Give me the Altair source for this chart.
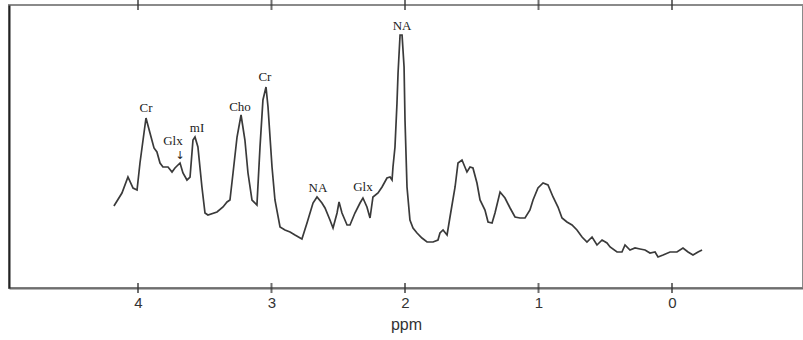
import altair as alt
import pandas as pd

# Spectrum trace (chemical shift in ppm, intensity in arbitrary units)
ppm = [4.180, 4.120, 4.075, 4.037, 4.007, 3.985, 3.940, 3.910, 3.880, 3.858,
       3.835, 3.813, 3.775, 3.745, 3.723, 3.685, 3.663, 3.633, 3.610, 3.588,
       3.573, 3.551, 3.521, 3.498, 3.476, 3.408, 3.363, 3.333, 3.311, 3.288,
       3.258, 3.228, 3.199, 3.176, 3.146, 3.109, 3.086, 3.064, 3.041, 3.026,
       2.996, 2.974, 2.936, 2.899, 2.861, 2.824, 2.772, 2.734, 2.689, 2.659,
       2.622, 2.599, 2.562, 2.539, 2.509, 2.494, 2.472, 2.434, 2.412, 2.375,
       2.337, 2.315, 2.285, 2.262, 2.240, 2.202, 2.172, 2.135, 2.112, 2.097,
       2.090, 2.075, 2.060, 2.052, 2.037, 2.022, 2.007, 2.000, 1.985, 1.963,
       1.940, 1.910, 1.873, 1.835, 1.790, 1.753, 1.738, 1.715, 1.685, 1.663,
       1.625, 1.603, 1.573, 1.536, 1.513, 1.491, 1.461, 1.438, 1.401, 1.378,
       1.348, 1.326, 1.288, 1.251, 1.213, 1.176, 1.139, 1.101, 1.064, 1.041,
       1.004, 0.966, 0.929, 0.891, 0.854, 0.824, 0.787, 0.749, 0.712, 0.674,
       0.637, 0.599, 0.562, 0.524, 0.487, 0.464, 0.412, 0.375, 0.352, 0.315,
       0.277, 0.240, 0.202, 0.165, 0.127, 0.105, 0.067, 0.015, -0.037, -0.082,
       -0.120, -0.157, -0.195, -0.225]
intensity = [81, 94, 110, 99, 97, 124, 169, 154, 139, 135,
             124, 120, 120, 115, 119, 124, 114, 107, 110, 147,
             150, 140, 100, 74, 72, 75, 80, 85, 87, 114,
             150, 172, 147, 114, 87, 82, 140, 187, 200, 180,
             120, 87, 60, 57, 55, 52, 48, 64, 84, 90,
             84, 79, 67, 59, 74, 85, 74, 62, 62, 74,
             84, 89, 80, 69, 90, 94, 100, 109, 110, 107,
             120, 140, 184, 214, 252, 252, 220, 167, 100, 67,
             59, 54, 49, 45, 45, 47, 54, 57, 52, 70,
             100, 124, 127, 115, 120, 119, 104, 87, 77, 65,
             64, 74, 95, 89, 79, 70, 69, 69, 77, 87,
             99, 104, 102, 90, 80, 69, 65, 62, 57, 50,
             45, 50, 42, 47, 44, 40, 35, 35, 42, 37,
             39, 38, 37, 34, 35, 30, 32, 35, 35, 39,
             35, 32, 35, 37]

# Peak annotations
label_text = ["Cr", "Glx", "mI", "Cho", "Cr", "NA", "NA", "Glx"]
label_ppm = [3.940, 3.738, 3.558, 3.236, 3.049, 2.022, 2.652, 2.315]
label_int = [179, 146, 159, 180, 210, 261, 99, 100]
arrow_ppm = [3.685]
arrow_int = [131]

tick_values = [4, 3, 2, 1, 0]
x_min, x_max = -0.981, 4.966
y_min, y_max = -1, 282

W, H = 794, 283
x_scale = alt.Scale(domain=[x_max, x_min], nice=False, zero=False)
y_scale = alt.Scale(domain=[y_min, y_max], nice=False, zero=False)

spec = pd.DataFrame({"ppm": ppm, "intensity": intensity})
labels = pd.DataFrame({"ppm": label_ppm, "intensity": label_int, "text": label_text})
arrows = pd.DataFrame({"ppm": arrow_ppm, "intensity": arrow_int})
ticks = pd.DataFrame({"ppm": tick_values})

line = alt.Chart(spec).mark_line(color="#3a3a3a", strokeWidth=1.7).encode(
    x=alt.X("ppm:Q", scale=x_scale,
            axis=alt.Axis(title="ppm", values=tick_values, format="d",
                          ticks=False, grid=False, domainColor="#6e6e6e",
                          domainWidth=2, labelFont="Liberation Sans",
                          labelFontSize=15, labelColor="#333", labelPadding=7,
                          titleFont="Liberation Sans", titleFontSize=16,
                          titleFontWeight="normal", titleColor="#333",
                          titlePadding=6)),
    y=alt.Y("intensity:Q", scale=y_scale,
            axis=alt.Axis(title=None, labels=False, ticks=False, grid=False,
                          domainColor="#222", domainWidth=2)),
)

text = alt.Chart(labels).mark_text(font="Liberation Serif", fontSize=13,
                                   color="#222", baseline="middle").encode(
    x=alt.X("ppm:Q", scale=x_scale),
    y=alt.Y("intensity:Q", scale=y_scale),
    text="text:N",
)

arrow = alt.Chart(arrows).mark_text(text="\u2193", font="DejaVu Sans", fontSize=11,
                                    color="#222", baseline="middle").encode(
    x=alt.X("ppm:Q", scale=x_scale),
    y=alt.Y("intensity:Q", scale=y_scale),
)

# inward tick marks on the top and bottom edges of the frame
top_ticks = alt.Chart(ticks).mark_tick(color="#333", thickness=2, size=10,
                                       orient="vertical").encode(
    x=alt.X("ppm:Q", scale=x_scale),
    y=alt.value(0),
)
bottom_ticks = alt.Chart(ticks).mark_tick(color="#333", thickness=2, size=10,
                                          orient="vertical").encode(
    x=alt.X("ppm:Q", scale=x_scale),
    y=alt.value(H),
)

chart = alt.layer(line, text, arrow, top_ticks, bottom_ticks).properties(
    width=W, height=H,
    autosize=alt.AutoSizeParams(type="none"),
    padding={"left": 9, "top": 5, "right": 0, "bottom": 52},
    background="white",
).configure_view(stroke="#8a8a8a", strokeWidth=2)

chart.save("out.html", embed_options={"renderer": "svg", "actions": False})
